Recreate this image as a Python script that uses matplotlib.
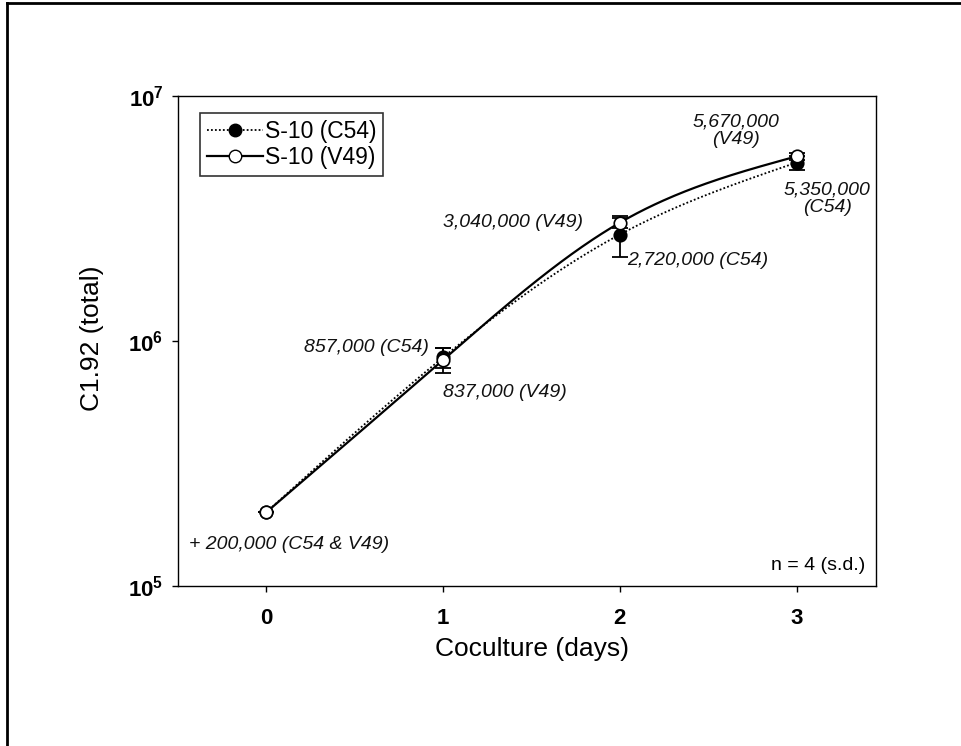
import numpy as np
import matplotlib
matplotlib.use("Agg")
import matplotlib.pyplot as plt
from matplotlib.ticker import FixedLocator, FuncFormatter, NullLocator
from matplotlib.lines import Line2D

plt.rcParams['font.family'] = ['Liberation Sans', 'DejaVu Sans']
plt.rcParams['mathtext.fontset'] = 'custom'
plt.rcParams['mathtext.rm'] = 'Liberation Sans'
plt.rcParams['mathtext.bf'] = 'Liberation Sans:bold'
plt.rcParams['mathtext.it'] = 'Liberation Sans:italic'

# ---- data ----
days = [0, 1, 2, 3]
c54_values = [200000, 857000, 2720000, 5350000]
c54_sd = [0, 80000, 520000, 360000]
v49_values = [200000, 837000, 3040000, 5670000]
v49_sd = [0, 100000, 150000, 180000]
series_labels = ["S-10 (C54)", "S-10 (V49)"]
x_ticks = [0, 1, 2, 3]
y_ticks = [1e5, 1e6, 1e7]


def natural_spline(x, y, xs):
    x = np.asarray(x, float)
    y = np.asarray(y, float)
    n = len(x)
    h = np.diff(x)
    A = np.zeros((n, n))
    b = np.zeros(n)
    A[0, 0] = 1
    A[-1, -1] = 1
    for i in range(1, n - 1):
        A[i, i - 1] = h[i - 1]
        A[i, i] = 2 * (h[i - 1] + h[i])
        A[i, i + 1] = h[i]
        b[i] = 3 * ((y[i + 1] - y[i]) / h[i] - (y[i] - y[i - 1]) / h[i - 1])
    c = np.linalg.solve(A, b)
    out = np.empty_like(xs)
    for k, xv in enumerate(xs):
        i = min(max(np.searchsorted(x, xv) - 1, 0), n - 2)
        bb = (y[i + 1] - y[i]) / h[i] - h[i] * (2 * c[i] + c[i + 1]) / 3
        dd = (c[i + 1] - c[i]) / (3 * h[i])
        t = xv - x[i]
        out[k] = y[i] + bb * t + c[i] * t ** 2 + dd * t ** 3
    return out


fig = plt.figure(figsize=(9.61, 7.46), dpi=100)
ax = fig.add_axes([0.1852, 0.2145, 0.7264, 0.6568])

xs = np.linspace(days[0], days[-1], 300)
c54_curve = 10 ** natural_spline(days, np.log10(c54_values), xs)
v49_curve = 10 ** natural_spline(days, np.log10(v49_values), xs)

ax.plot(xs, c54_curve, color='black', lw=1.3, ls=(0, (1, 1.2)), zorder=2)
ax.plot(xs, v49_curve, color='black', lw=1.6, ls='-', zorder=2)

ax.errorbar(days, c54_values, yerr=c54_sd, fmt='none', ecolor='black',
            elinewidth=1.3, capsize=6, capthick=1.3, zorder=3)
ax.errorbar(days, v49_values, yerr=v49_sd, fmt='none', ecolor='black',
            elinewidth=1.3, capsize=6, capthick=1.3, zorder=3)

ax.plot(days, c54_values, 'o', ms=9, mfc='black', mec='black', mew=1.2, zorder=4)
ax.plot(days, v49_values, 'o', ms=9, mfc='white', mec='black', mew=1.2, zorder=5)

ax.set_yscale('log')
ax.set_ylim(1e5, 1e7)
ax.set_xlim(-0.5, 3.45)
ax.yaxis.set_major_locator(FixedLocator(y_ticks))
ax.yaxis.set_minor_locator(NullLocator())
ax.yaxis.set_major_formatter(FuncFormatter(
    lambda v, p: r'$\mathbf{10^{%d}}$' % int(round(np.log10(v)))))
ax.set_xticks(x_ticks)
ax.set_xticklabels([str(t) for t in x_ticks], fontweight='bold')
ax.tick_params(axis='both', direction='out', length=4.5, width=1)
ax.tick_params(axis='y', labelsize=16, pad=6)
ax.tick_params(axis='x', labelsize=16, pad=11.5)
for s in ax.spines.values():
    s.set_linewidth(1.0)
    s.set_color('black')

ax.set_xlabel("Coculture (days)", fontsize=19)
ax.set_ylabel("C1.92 (total)", fontsize=19)
ax.xaxis.set_label_coords(0.507, -0.1286)
ax.yaxis.set_label_coords(-0.1232, 0.506)
ax.xaxis.label.set_va('center')
ax.yaxis.label.set_va('center')

ann = dict(fontsize=14, style='italic', color='#111111')
ax.text(-0.44, 147000, "+ 200,000 (C54 & V49)", ha='left', va='center', **ann)
ax.text(0.92, 944000, "857,000 (C54)", ha='right', va='center', **ann)
ax.text(1.0, 619000, "837,000 (V49)", ha='left', va='center', **ann)
ax.text(1.79, 3060000, "3,040,000 (V49)", ha='right', va='center', **ann)
ax.text(2.04, 2140000, "2,720,000 (C54)", ha='left', va='center', **ann)
ax.text(2.66, 7190000, "5,670,000\n(V49)", ha='center', va='center',
        linespacing=1.05, **ann)
ax.text(3.175, 3800000, "5,350,000\n(C54)", ha='center', va='center',
        linespacing=1.05, **ann)
ax.text(0.984, 0.042, "n = 4 (s.d.)", transform=ax.transAxes, ha='right',
        va='center', fontsize=14)

handles = [
    Line2D([], [], color='black', lw=1.3, ls=(0, (1, 1.2)), marker='o', ms=9,
           mfc='black', mec='black'),
    Line2D([], [], color='black', lw=1.6, ls='-', marker='o', ms=9,
           mfc='white', mec='black'),
]
leg = ax.legend(handles, series_labels, loc='upper left',
                bbox_to_anchor=(0.0315, 0.965), fontsize=16.5, frameon=True,
                fancybox=False, edgecolor='black', handlelength=2.45,
                handletextpad=0.08, borderpad=0.3, labelspacing=0.15,
                borderaxespad=0)
leg.get_frame().set_linewidth(1.2)

# figure frame (left and top edges)
fig.add_artist(Line2D([0.0078, 0.0078], [0, 0.996], transform=fig.transFigure,
                      color='black', lw=2))
fig.add_artist(Line2D([0.0078, 1.0], [0.996, 0.996], transform=fig.transFigure,
                      color='black', lw=2))

fig.savefig("out.png", dpi=100)
